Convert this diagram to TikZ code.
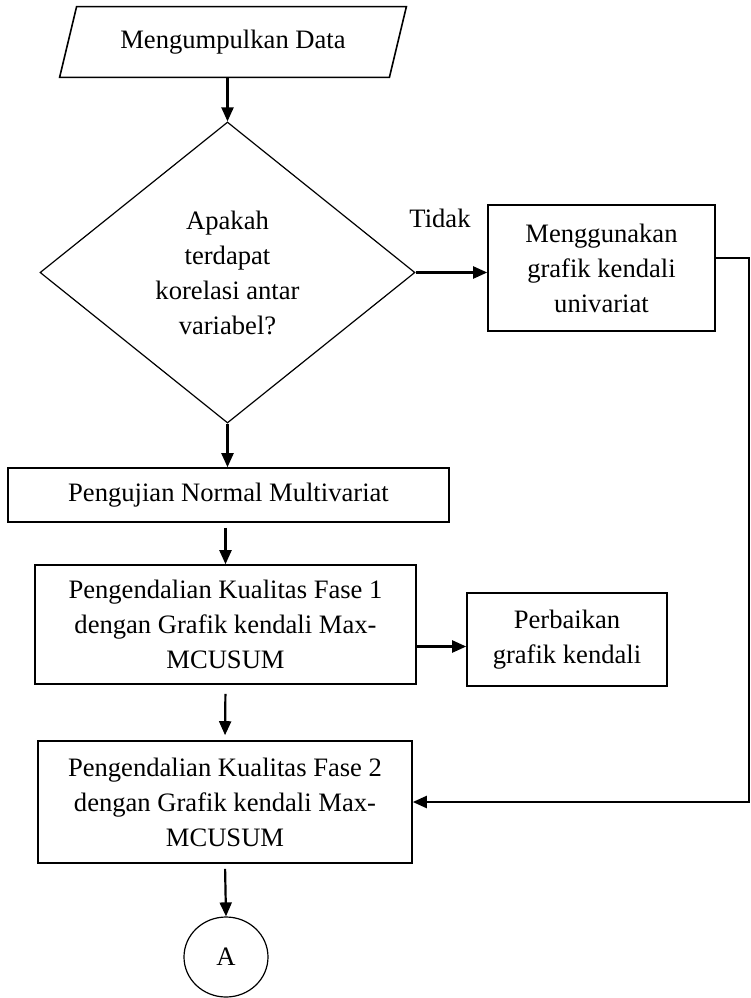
\documentclass[tikz,border=0pt]{standalone}
\usepackage{fontspec}
\setmainfont{Liberation Serif}
\usetikzlibrary{arrows.meta,shapes.geometric}

\begin{document}
\begin{tikzpicture}[x=0.5pt,y=-0.5pt,
    box/.style={draw,line width=0.8pt,align=center,inner sep=0pt},
    arr/.style={-{Triangle[length=7pt,width=6pt]},line width=1.1pt},
    font=\fontsize{13.3}{17.5}\selectfont]
        \useasboundingbox (0,0) rectangle (751,998);

        \node[inner sep=0pt,minimum width=164.5pt,minimum height=35pt] (data) at (233,42) {Mengumpulkan Data};
        \draw[line width=0.8pt] ([xshift=4.25pt]data.north west) -- ([xshift=4.25pt]data.north east)
              -- ([xshift=-4.25pt]data.south east) -- ([xshift=-4.25pt]data.south west) -- cycle;
        \node[box,diamond,line width=0.6pt,aspect=1.25,minimum width=187.5pt,minimum height=150.5pt] (dia) at (227.5,272.5)
              {Apakah\\terdapat\\korelasi antar\\variabel?};
        \node[box,minimum width=113.5pt,minimum height=63pt] (univ) at (601.5,268) {Menggunakan\\grafik kendali\\univariat};
        \node (tidak) at (440,218) {Tidak};
        \node[box,minimum width=220.5pt,minimum height=27pt] (uji) at (228.5,495) {Pengujian Normal Multivariat};
        \node[box,minimum width=190.5pt,minimum height=59.5pt] (fase1) at (225.5,624.5)
              {Pengendalian Kualitas Fase 1\\dengan Grafik kendali Max-\\MCUSUM};
        \node[box,minimum width=100pt,minimum height=46.5pt] (baik) at (567,639.5) {Perbaikan\\grafik kendali};
        \node[box,minimum width=187pt,minimum height=61pt] (fase2) at (225,802)
              {Pengendalian Kualitas Fase 2\\dengan Grafik kendali Max-\\MCUSUM};
        \node[draw,ellipse,line width=0.6pt,inner sep=0pt,minimum width=42pt,minimum height=40pt] (A) at (226,957) {A};
        \coordinate (balik) at (749,258);

        \draw[arr] (dia.north |- data.south) -- (dia.north);
        \draw[arr] (dia.east) -- (univ.west |- dia.east);
        \draw[arr] (dia.south) -- (dia.south |- uji.north);
        \draw[arr,shorten <=2.5pt] (fase1.north |- uji.south) -- (fase1.north);
        \draw[arr] ([yshift=-11pt]fase1.east) -- ([yshift=-11pt]fase1.east -| baik.west);
        \draw[arr,shorten <=4.5pt,shorten >=2.5pt] (fase1.south) -- (fase2.north);
        \draw[arr] ([yshift=5pt]univ.east) -- (balik) |- (fase2.east);
        \draw[arr,shorten <=2.5pt] (fase2.south) -- (A.north);
      \end{tikzpicture}
\end{document}
